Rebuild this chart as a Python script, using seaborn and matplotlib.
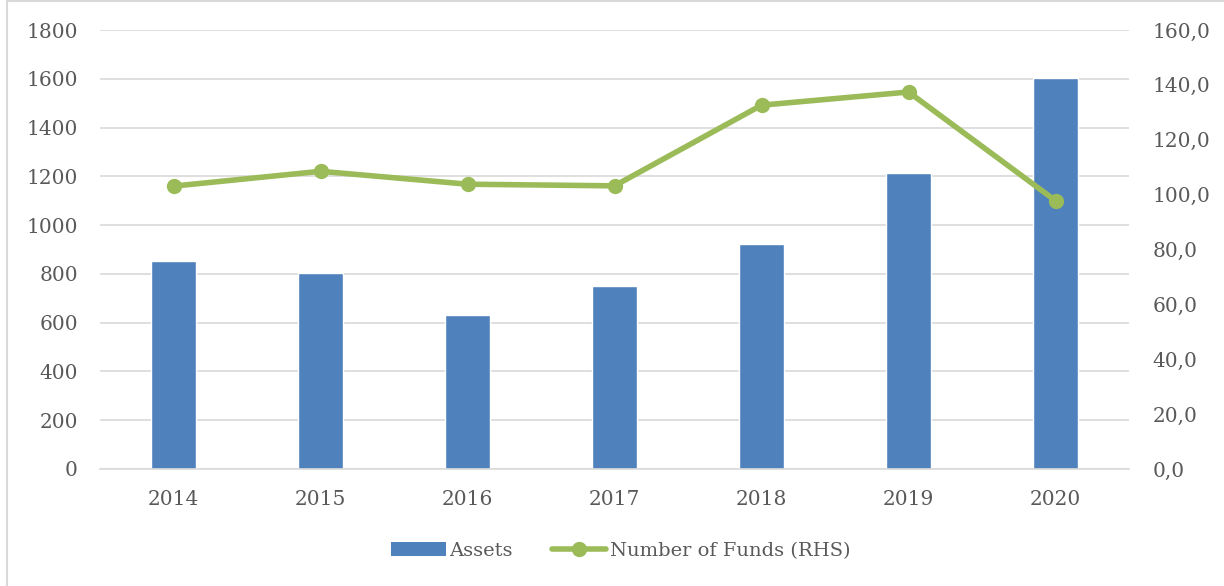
import matplotlib
matplotlib.use("Agg")
import matplotlib.pyplot as plt
import seaborn as sns
import pandas as pd
from matplotlib.ticker import FuncFormatter, MultipleLocator
from matplotlib.lines import Line2D
from matplotlib.patches import Patch, Rectangle

years = ["2014", "2015", "2016", "2017", "2018", "2019", "2020"]
assets = [854, 804, 632, 752, 922, 1212, 1602]
num_funds = [103.1, 108.5, 103.8, 103.2, 132.6, 137.4, 97.8]

sns.set_theme(style="white")
plt.rcParams['font.family'] = ['DejaVu Serif']

BLUE = "#4F81BD"
GREEN = "#9BBB59"
TXT = "#595959"
GRID = "#D9D9D9"

df = pd.DataFrame({"year": years, "assets": assets, "funds": num_funds})

fig = plt.figure(figsize=(12.24, 5.86), dpi=100)
ax = fig.add_axes([100/1224, 1-469/586, (1129-100)/1224, (469-30)/586])

sns.barplot(data=df, x="year", y="assets", color=BLUE, width=0.31,
            saturation=1, ax=ax, zorder=2)
ax.set_xlim(-0.5, 6.5)
ax.set_ylim(0, 1800)
ax.yaxis.set_major_locator(MultipleLocator(200))
ax.grid(axis="y", color=GRID, linewidth=1.2, zorder=0)
ax.set_axisbelow(True)
for s in ["top", "left", "right"]:
    ax.spines[s].set_visible(False)
ax.spines["bottom"].set_color(GRID)
ax.spines["bottom"].set_linewidth(1.2)
ax.set_xlabel("")
ax.set_ylabel("")
ax.tick_params(axis="x", length=0, labelsize=14.5, colors=TXT, pad=15)
ax.tick_params(axis="y", length=0, labelsize=14.5, colors=TXT, pad=16)

ax2 = ax.twinx()
sns.lineplot(x=list(range(len(years))), y=num_funds, ax=ax2, color=GREEN,
             linewidth=4, marker="o", markersize=11, markeredgewidth=0, zorder=3)
ax2.set_ylim(0, 160)
ax2.yaxis.set_major_locator(MultipleLocator(20))
ax2.yaxis.set_major_formatter(FuncFormatter(lambda v, p: f"{v:.1f}".replace(".", ",")))
for s in ["top", "left", "right", "bottom"]:
    ax2.spines[s].set_visible(False)
ax2.tick_params(axis="y", length=0, labelsize=14.5, colors=TXT, pad=17)
ax2.grid(False)

handles = [Patch(facecolor=BLUE, edgecolor="none"),
           Line2D([0], [0], color=GREEN, linewidth=4, marker="o", markersize=11,
                  markeredgewidth=0)]
fig.legend(handles, ["Assets", "Number of Funds (RHS)"], loc="center",
           bbox_to_anchor=(0.5 + 9/1224, 1-551/586), ncol=2, frameon=False,
           fontsize=14, labelcolor=TXT, handlelength=2.8, handletextpad=0.2,
           columnspacing=2.0)

fig.patches.append(Rectangle((7/1224, -0.01), 1.0, 1-1/586+0.01,
                             transform=fig.transFigure, fill=False,
                             edgecolor=GRID, linewidth=1.5))

fig.savefig("out.png", dpi=100)
